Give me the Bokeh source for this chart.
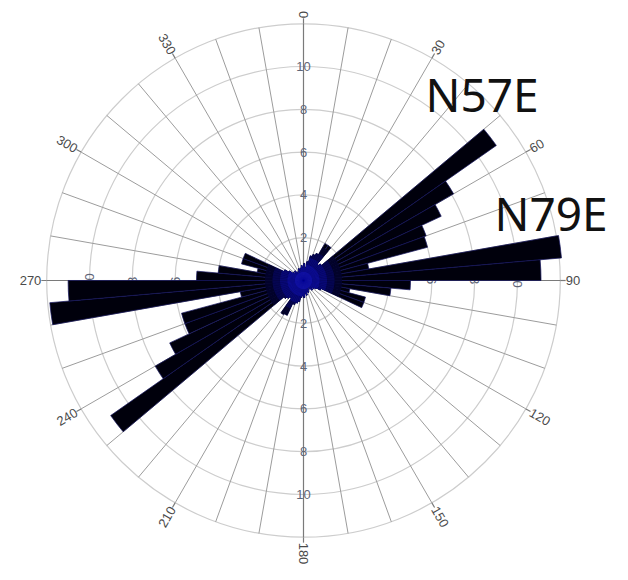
import numpy as np
from bokeh.plotting import figure
from bokeh.models import Range1d, Label
from bokeh.embed import file_html
from bokeh.resources import INLINE
from bokeh.core.properties import value

# ---------------- data ----------------
bin_width_deg = 5
bin_start_deg = list(range(0, 360, 5))
counts = [
    0.8, 0.6, 0.9, 1.2, 1.3, 1.4, 2.0, 2.0, 1.0, 1.1,      # 0-45
    11.0, 8.1, 7.1, 6.1, 6.0, 3.1, 12.1, 11.1,             # 50-85
    5.0, 4.1, 2.2, 3.0, 3.0, 0.9, 0.7, 0.6, 0.5,           # 90-130
    0.6, 0.5, 0.4, 0.5, 0.6, 0.5, 0.7, 0.6, 0.8,           # 135-175
    0.7, 0.8, 1.0, 1.1, 1.2, 1.8, 1.85, 1.0, 1.1, 1.2,     # 180-225
    11.0, 8.0, 6.9, 5.9, 5.9, 3.0, 11.9, 11.0,             # 230-265
    5.0, 4.0, 2.2, 3.0, 3.0, 1.0, 0.8, 0.6, 0.5,           # 270-310
    0.6, 0.5, 0.4, 0.5, 0.6, 0.5, 0.6, 0.7, 0.6,           # 315-355
]
ring_values = [2, 4, 6, 8, 10, 12]
ring_label_values = [2, 4, 6, 8, 10]
ring_labels = ["2", "4", "6", "8", "10"]
spoke_deg = list(range(0, 360, 10))
angle_ticks = [0, 30, 60, 90, 120, 150, 180, 210, 240, 270, 300, 330]
angle_tick_labels = ["0", "30", "60", "90", "120", "150", "180", "210", "240", "270", "300", "330"]
annotation_texts = ["N57E", "N79E"]

# ---------------- figure ----------------
S = 21.4            # pixels per count unit
W, H = 612, 564
cx, cy = 303, 280   # centre of the rose on the canvas (px from left / top)
RMAX = 12
RLAB = 12.25

p = figure(width=W, height=H, output_backend="svg", toolbar_location=None,
           x_range=Range1d(-cx / S, (W - cx) / S),
           y_range=Range1d(-(H - cy) / S, cy / S),
           x_axis_type=None, y_axis_type=None, min_border=0)
p.grid.visible = False
p.outline_line_color = None
p.background_fill_color = "white"

def math_rad(deg):
    return np.radians(90 - np.asarray(deg, dtype=float))

# rings
p.circle(x=[0] * len(ring_values), y=[0] * len(ring_values), radius=ring_values,
         fill_color=None, line_color="#cdcdcd", line_width=1.2)

# spokes
sp = math_rad(spoke_deg)
main = np.isin(spoke_deg, [0, 90, 180, 270])
p.segment(x0=0, y0=0, x1=RMAX * np.cos(sp[~main]), y1=RMAX * np.sin(sp[~main]),
          line_color="#9c9c9c", line_width=1)
p.segment(x0=0, y0=0, x1=RMAX * np.cos(sp[main]), y1=RMAX * np.sin(sp[main]),
          line_color="#7a7a7a", line_width=1.2)
# label ticks outside the outer ring
at = math_rad(angle_ticks)
p.segment(x0=RMAX * np.cos(at), y0=RMAX * np.sin(at),
          x1=RLAB * np.cos(at), y1=RLAB * np.sin(at),
          line_color="#7a7a7a", line_width=1.2)

# ring labels on the horizontal axis (mostly hidden under the petals)
rl = np.array(ring_label_values, dtype=float)
lab_font = value("Liberation Sans")
p.text(x=-rl, y=0 * rl, text=ring_labels, angle=np.pi / 2, text_align="center",
       text_baseline="middle", text_font=lab_font, text_font_size="13px",
       text_color="#5f6678")
p.text(x=rl, y=0 * rl, text=ring_labels, angle=-np.pi / 2, text_align="center",
       text_baseline="middle", text_font=lab_font, text_font_size="13px",
       text_color="#5f6678")

# petals
b0 = np.array(bin_start_deg, dtype=float)
start = math_rad(b0 + bin_width_deg)
end = math_rad(b0)
cnt = np.array(counts, dtype=float)
p.wedge(x=0, y=0, radius=cnt, start_angle=start, end_angle=end,
        fill_color="#00000c", line_color="#14145e", line_width=0.7)
# blue glow toward the centre
for cap, col in [(1.8, "#02022a"), (1.45, "#050550"), (1.1, "#080874"),
                 (0.75, "#0c0c90"), (0.4, "#1212a8")]:
    p.wedge(x=0, y=0, radius=np.minimum(cnt, cap), start_angle=start, end_angle=end,
            fill_color=col, line_color=None)

# ring labels on the vertical axis
p.text(x=0 * rl, y=rl, text=ring_labels, text_align="center", text_baseline="middle",
       text_font=lab_font, text_font_size="13px", text_color="#5f6678")
p.text(x=0 * rl, y=-rl, text=ring_labels, text_align="center", text_baseline="middle",
       text_font=lab_font, text_font_size="13px", text_color="#5f6678")

# angle labels
ang = np.array(angle_ticks, dtype=float)
right = ang <= 180
txt = np.array(angle_tick_labels)
phi = math_rad(ang)
p.text(x=RLAB * np.cos(phi[right]), y=RLAB * np.sin(phi[right]), text=list(txt[right]),
       angle=phi[right], text_align="left", text_baseline="middle",
       text_font=lab_font, text_font_size="13px", text_color="#4a4a4a")
p.text(x=RLAB * np.cos(phi[~right]), y=RLAB * np.sin(phi[~right]), text=list(txt[~right]),
       angle=phi[~right] + np.pi, text_align="right", text_baseline="middle",
       text_font=lab_font, text_font_size="13px", text_color="#4a4a4a")

# annotations
for t, (sx, sy) in zip(annotation_texts, [(425, H - 93), (494, H - 212)]):
    p.add_layout(Label(x=sx, y=sy, x_units="screen", y_units="screen", text=t,
                       text_font="Noto Sans", text_font_size="46px",
                       text_color="#111111", text_baseline="alphabetic"))

open("out.html", "w").write(file_html(p, INLINE))
